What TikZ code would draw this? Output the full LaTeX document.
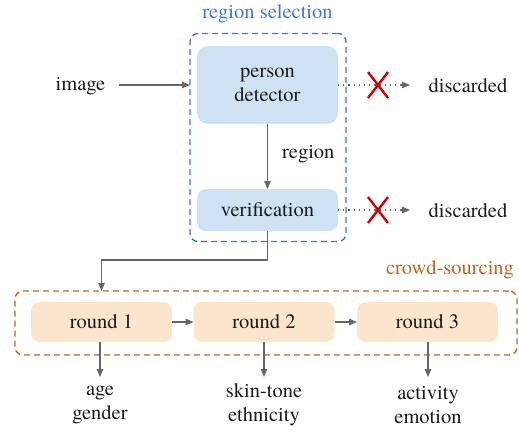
\documentclass[tikz,border=0pt]{standalone}
\usepackage{fontspec}
\setmainfont{texgyretermes-regular.otf}
\usetikzlibrary{arrows.meta,shapes.misc}
\definecolor{bluefill}{HTML}{CFE2F3}
\definecolor{peachfill}{HTML}{FCE5CD}
\definecolor{blueline}{HTML}{3C78D8}
\definecolor{orangeline}{HTML}{C0651A}
\definecolor{arrowgray}{HTML}{666666}
\definecolor{xred}{HTML}{CC0000}
\definecolor{txt}{HTML}{1A1A1A}
\begin{document}
\begin{tikzpicture}[x=1pt,y=-1pt,
  font=\rmfamily\fontsize{20.5}{24}\selectfont, text=txt,
  box/.style={rounded corners=9pt, inner sep=0pt, outer sep=0pt, align=center, minimum width=141pt},
  bluebox/.style={box, fill=bluefill},
  peachbox/.style={box, fill=peachfill, minimum height=40pt},
  arr/.style={draw=arrowgray, line width=1.2pt, -{Triangle[length=8pt,width=6.5pt]}},
  dotarr/.style={arr, dash pattern=on 1.2pt off 4pt},
  xmark/.style={cross out, draw=xred, line width=2.4pt, minimum width=20pt, minimum height=26pt, inner sep=0pt, outer sep=0pt},
  lbl/.style={inner sep=0pt, align=center}]
\useasboundingbox (0,0) rectangle (519,432);

% containers
\node[draw=blueline, line width=1.4pt, dash pattern=on 6pt off 4pt, rounded corners=8pt,
      minimum width=156pt, minimum height=208pt, inner sep=0pt, outer sep=0pt] (selbox) at (268,137.5) {};
\node[draw=orangeline, line width=1.4pt, dash pattern=on 6pt off 4pt, rounded corners=8pt,
      minimum width=502pt, minimum height=64pt, inner sep=0pt, outer sep=0pt] (crowd) at (266,323) {};
\node[lbl, text=blueline] (seltitle) at (267.5,14) {region selection};
\node[lbl, text=orangeline] (crowdtitle) at (450,270) {crowd-sourcing};

% region selection
\node[bluebox, minimum height=78pt, rounded corners=11pt] (pd) at (267.5,85) {person\\detector};
\node[bluebox, minimum height=42pt] (ver) at (267.5,210) {verification};
\node[lbl] (image) at (80.5,86) {image};
\node[lbl] (disc1) at (468,86) {discarded};
\node[lbl] (disc2) at (468,211) {discarded};
\coordinate (d1) at (410,85);
\coordinate (d2) at (410,210);

\draw[arr] ([xshift=14pt]image.east |- pd) -- (selbox.west |- pd);
\draw[dotarr] (pd.east) -- (d1);
\draw[dotarr] (ver.east) -- (d2);
\node[xmark] (x1) at (378,85) {};
\node[xmark] (x2) at (378,210) {};
\draw[arr] (pd.south) -- node[lbl, right=14pt, pos=0.47] (reglabel) {region} (ver.north);

% crowd-sourcing
\node[peachbox] (r1) at (101.5,322) {round 1};
\node[peachbox] (r2) at (264,322) {round 2};
\node[peachbox] (r3) at (427.5,322) {round 3};
\draw[arr] (ver.south) -- ++(0,29) -| (r1.north |- crowd.north);
\draw[arr] (r1) -- (r2);
\draw[arr] (r2) -- (r3);

\node[lbl] (l1) at (100,405) {age\\gender};
\node[lbl] (l2) at (264,405) {skin-tone\\ethnicity};
\node[lbl] (l3) at (428,405) {activity\\emotion};
\draw[arr] (r1.south -| l1) -- ++(0,35);
\draw[arr] (r2.south -| l2) -- ++(0,35);
\draw[arr] (r3.south -| l3) -- ++(0,35);
\end{tikzpicture}
\end{document}
